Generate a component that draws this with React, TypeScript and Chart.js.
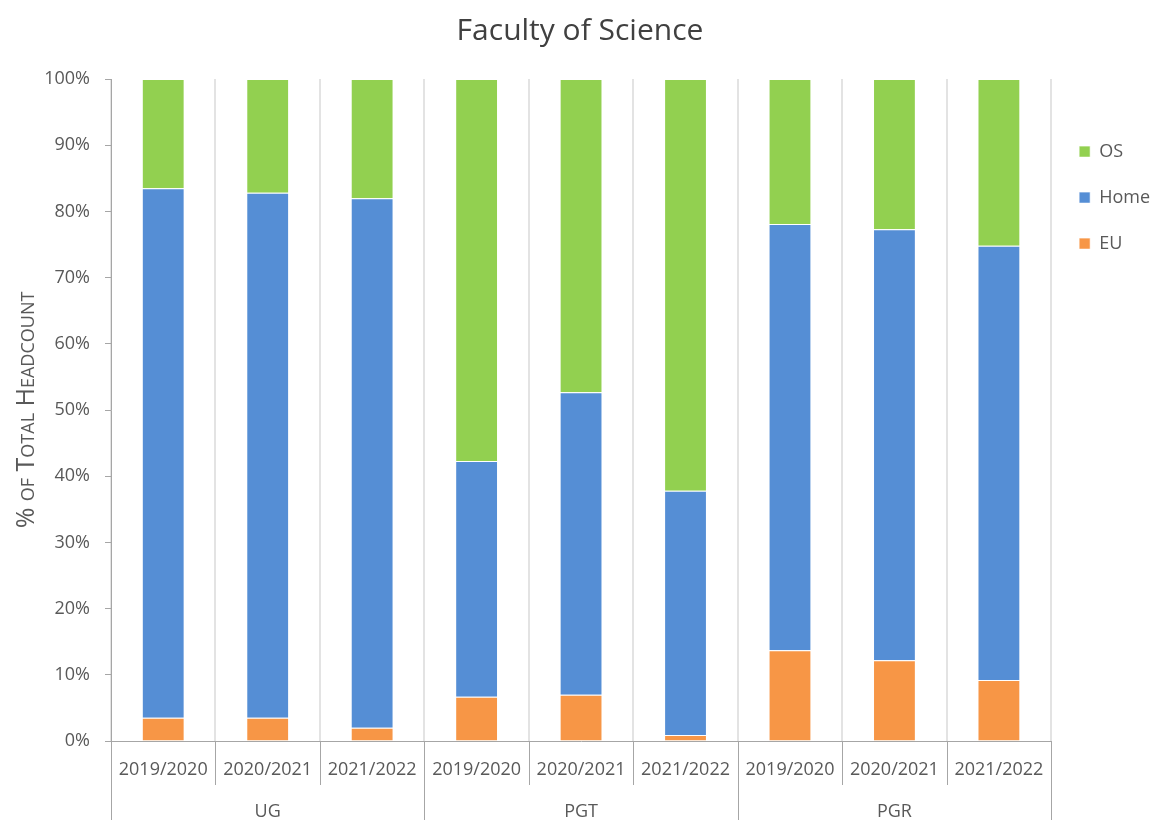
import React, { useEffect, useRef } from 'react';
import { Chart, registerables } from 'chart.js';

Chart.register(...registerables);

const chartTitle = 'Faculty of Science';
const yAxisTitle = '% of Total Headcount';
const years = ['2019/2020', '2020/2021', '2021/2022', '2019/2020', '2020/2021', '2021/2022', '2019/2020', '2020/2021', '2021/2022'];
const groups = ['UG', 'PGT', 'PGR'];
const euValues = [3.5, 3.5, 2.0, 6.7, 7.0, 0.9, 13.7, 12.2, 9.2];
const homeValues = [80.0, 79.3, 80.0, 35.6, 45.7, 36.9, 64.4, 65.1, 65.6];
const osValues = [16.5, 17.2, 18.0, 57.7, 47.3, 62.2, 21.9, 22.7, 25.2];

const FONT = "'Open Sans', sans-serif";
const TEXT = '#595959';
const LINE = '#a6a6a6';

const groupPlugin = {
  id: 'groupAxis',
  afterDraw(chart: any) {
    const ctx = chart.ctx;
    const xs = chart.scales.x;
    const area = chart.chartArea;
    const n = years.length;
    const half = (xs.getPixelForValue(1) - xs.getPixelForValue(0)) / 2;
    ctx.save();
    ctx.strokeStyle = LINE;
    ctx.lineWidth = 1;
    for (let i = 0; i <= n; i++) {
      const bx = i < n ? xs.getPixelForValue(i) - half : xs.getPixelForValue(n - 1) + half;
      const x = Math.round(bx) + 0.5;
      const yEnd = i % 3 === 0 ? chart.height : area.bottom + 44;
      ctx.beginPath();
      ctx.moveTo(x, area.bottom);
      ctx.lineTo(x, yEnd);
      ctx.stroke();
    }
    ctx.fillStyle = TEXT;
    ctx.font = `18px ${FONT}`;
    ctx.textAlign = 'center';
    ctx.textBaseline = 'middle';
    groups.forEach((g, gi) => {
      const cx = xs.getPixelForValue(gi * 3 + 1);
      ctx.fillText(g, cx, area.bottom + 71);
    });
    ctx.restore();
  },
};

export default function App() {
  const ref = useRef<HTMLCanvasElement>(null);
  useEffect(() => {
    if (!ref.current) return;
    const chart = new Chart(ref.current, {
      type: 'bar',
      data: {
        labels: years,
        datasets: [
          { label: 'EU', data: euValues, backgroundColor: '#f79646', borderColor: 'rgba(255,255,255,0.6)', borderWidth: 1, barPercentage: 0.41, categoryPercentage: 1 },
          { label: 'Home', data: homeValues, backgroundColor: '#558ed5', borderColor: 'rgba(255,255,255,0.6)', borderWidth: 1, barPercentage: 0.41, categoryPercentage: 1 },
          { label: 'OS', data: osValues, backgroundColor: '#92d050', borderColor: 'rgba(255,255,255,0.6)', borderWidth: 1, barPercentage: 0.41, categoryPercentage: 1 },
        ],
      },
      options: {
        animation: false,
        responsive: true,
        maintainAspectRatio: false,
        layout: { padding: { left: 0, right: -7, top: 0, bottom: 0 } },
        plugins: {
          title: {
            display: true,
            text: chartTitle,
            color: '#404040',
            font: { family: FONT, size: 30, weight: 'normal' },
            padding: { top: 13, bottom: 30 },
          },
          legend: {
            display: true,
            position: 'right',
            align: 'start',
            reverse: true,
            title: { display: true, text: ' ', font: { family: FONT, size: 18 }, padding: { top: 93, bottom: 0 } },
            labels: {
              color: TEXT,
              font: { family: FONT, size: 18 },
              boxWidth: 11,
              boxHeight: 11,
              padding: 28,
            },
          },
          tooltip: { enabled: false },
        },
        scales: {
          x: {
            stacked: true,
            offset: true,
            afterFit: (s: any) => { s.height = 79; },
            grid: { offset: true, color: '#e3e3e3', lineWidth: 2, drawTicks: false },
            border: { color: LINE },
            ticks: { color: TEXT, font: { family: FONT, size: 18 }, padding: 18, maxRotation: 0, autoSkip: false },
          },
          y: {
            stacked: true,
            min: 0,
            max: 100,
            afterFit: (s: any) => { s.width = 111; },
            grid: { drawOnChartArea: false, drawTicks: true, tickLength: 6, color: LINE },
            border: { color: LINE },
            ticks: { stepSize: 10, color: TEXT, font: { family: FONT, size: 18 }, padding: 15, callback: (v: any) => v + '%' },
            title: {
              display: true,
              text: yAxisTitle,
              color: TEXT,
              font: { family: FONT, size: 25, weight: 'small-caps' as any },
              padding: { top: 12, bottom: 0 },
            },
          },
        },
      },
      plugins: [groupPlugin],
    });
    return () => chart.destroy();
  }, []);
  return (
    <div style={{ position: 'fixed', left: 0, top: 0, width: 1153, height: 820, background: '#fff' }}>
      <canvas ref={ref} />
    </div>
  );
}
